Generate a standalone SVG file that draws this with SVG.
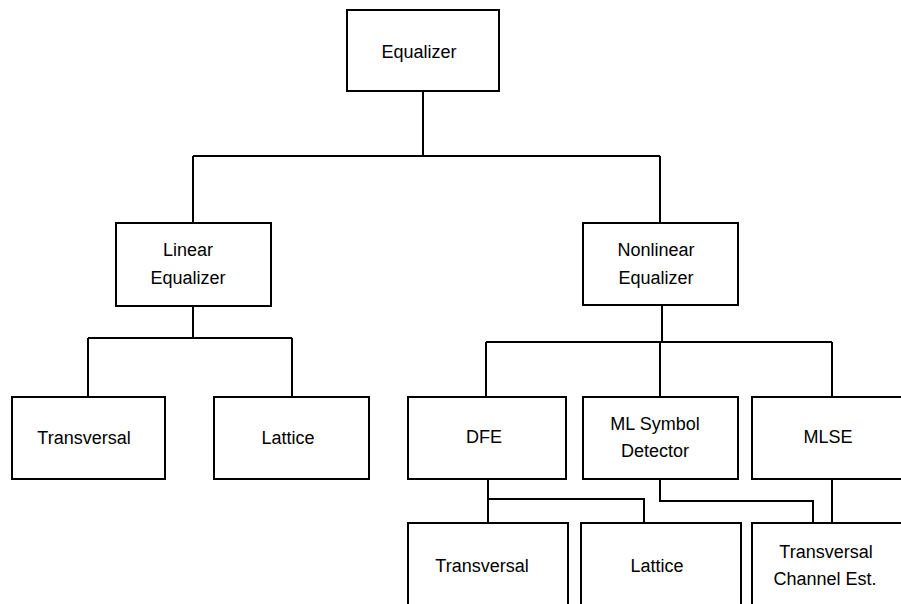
<svg xmlns="http://www.w3.org/2000/svg" width="901" height="604" viewBox="0 0 901 604">
<style>
rect{fill:#fff;stroke:#000;stroke-width:2}
text{font-family:"Liberation Sans",Arial,sans-serif;font-size:18px;fill:#000;text-anchor:middle}
#connectors path{fill:none;stroke:#000;stroke-width:2}
</style>
<rect x="0" y="0" width="901" height="604" style="stroke:none"/>
<g id="connectors">
<path d="M423,91 V156 M193,156 H660 M193,156 V223 M660,156 V223"/>
<path d="M193,306 V338 M88,338 H292 M88,338 V397 M292,338 V397"/>
<path d="M662,305 V342 M486,342 H832 M486,342 V397 M660,342 V397 M832,342 V397"/>
<path d="M488,479 V499 H644 V523 M488,499 V523"/>
<path d="M660,479 V501 H813 V523"/>
<path d="M832,479 V523"/>
</g>
<g id="eq"><rect x="347" y="10" width="152" height="81"/><text x="419" y="58">Equalizer</text></g>
<g id="lin"><rect x="116" y="223" width="155" height="83"/><text x="188" y="256">Linear</text><text x="188" y="284">Equalizer</text></g>
<g id="nonlin"><rect x="583" y="223" width="155" height="82"/><text x="656" y="256">Nonlinear</text><text x="656" y="284">Equalizer</text></g>
<g id="trans1"><rect x="12" y="397" width="153" height="82"/><text x="84" y="444">Transversal</text></g>
<g id="lat1"><rect x="214" y="397" width="155" height="82"/><text x="288" y="444">Lattice</text></g>
<g id="dfe"><rect x="408" y="397" width="158" height="82"/><text x="484" y="443">DFE</text></g>
<g id="mlsd"><rect x="583" y="397" width="155" height="82"/><text x="655" y="430">ML Symbol</text><text x="655" y="457">Detector</text></g>
<g id="mlse"><rect x="752" y="397" width="160" height="82"/><text x="828" y="443">MLSE</text></g>
<g id="trans2"><rect x="408" y="523" width="160" height="100"/><text x="482" y="572">Transversal</text></g>
<g id="lat2"><rect x="581" y="523" width="160" height="100"/><text x="657" y="572">Lattice</text></g>
<g id="tce"><rect x="752" y="523" width="160" height="100"/><text x="826" y="558">Transversal</text><text x="825" y="585">Channel Est.</text></g>
</svg>
